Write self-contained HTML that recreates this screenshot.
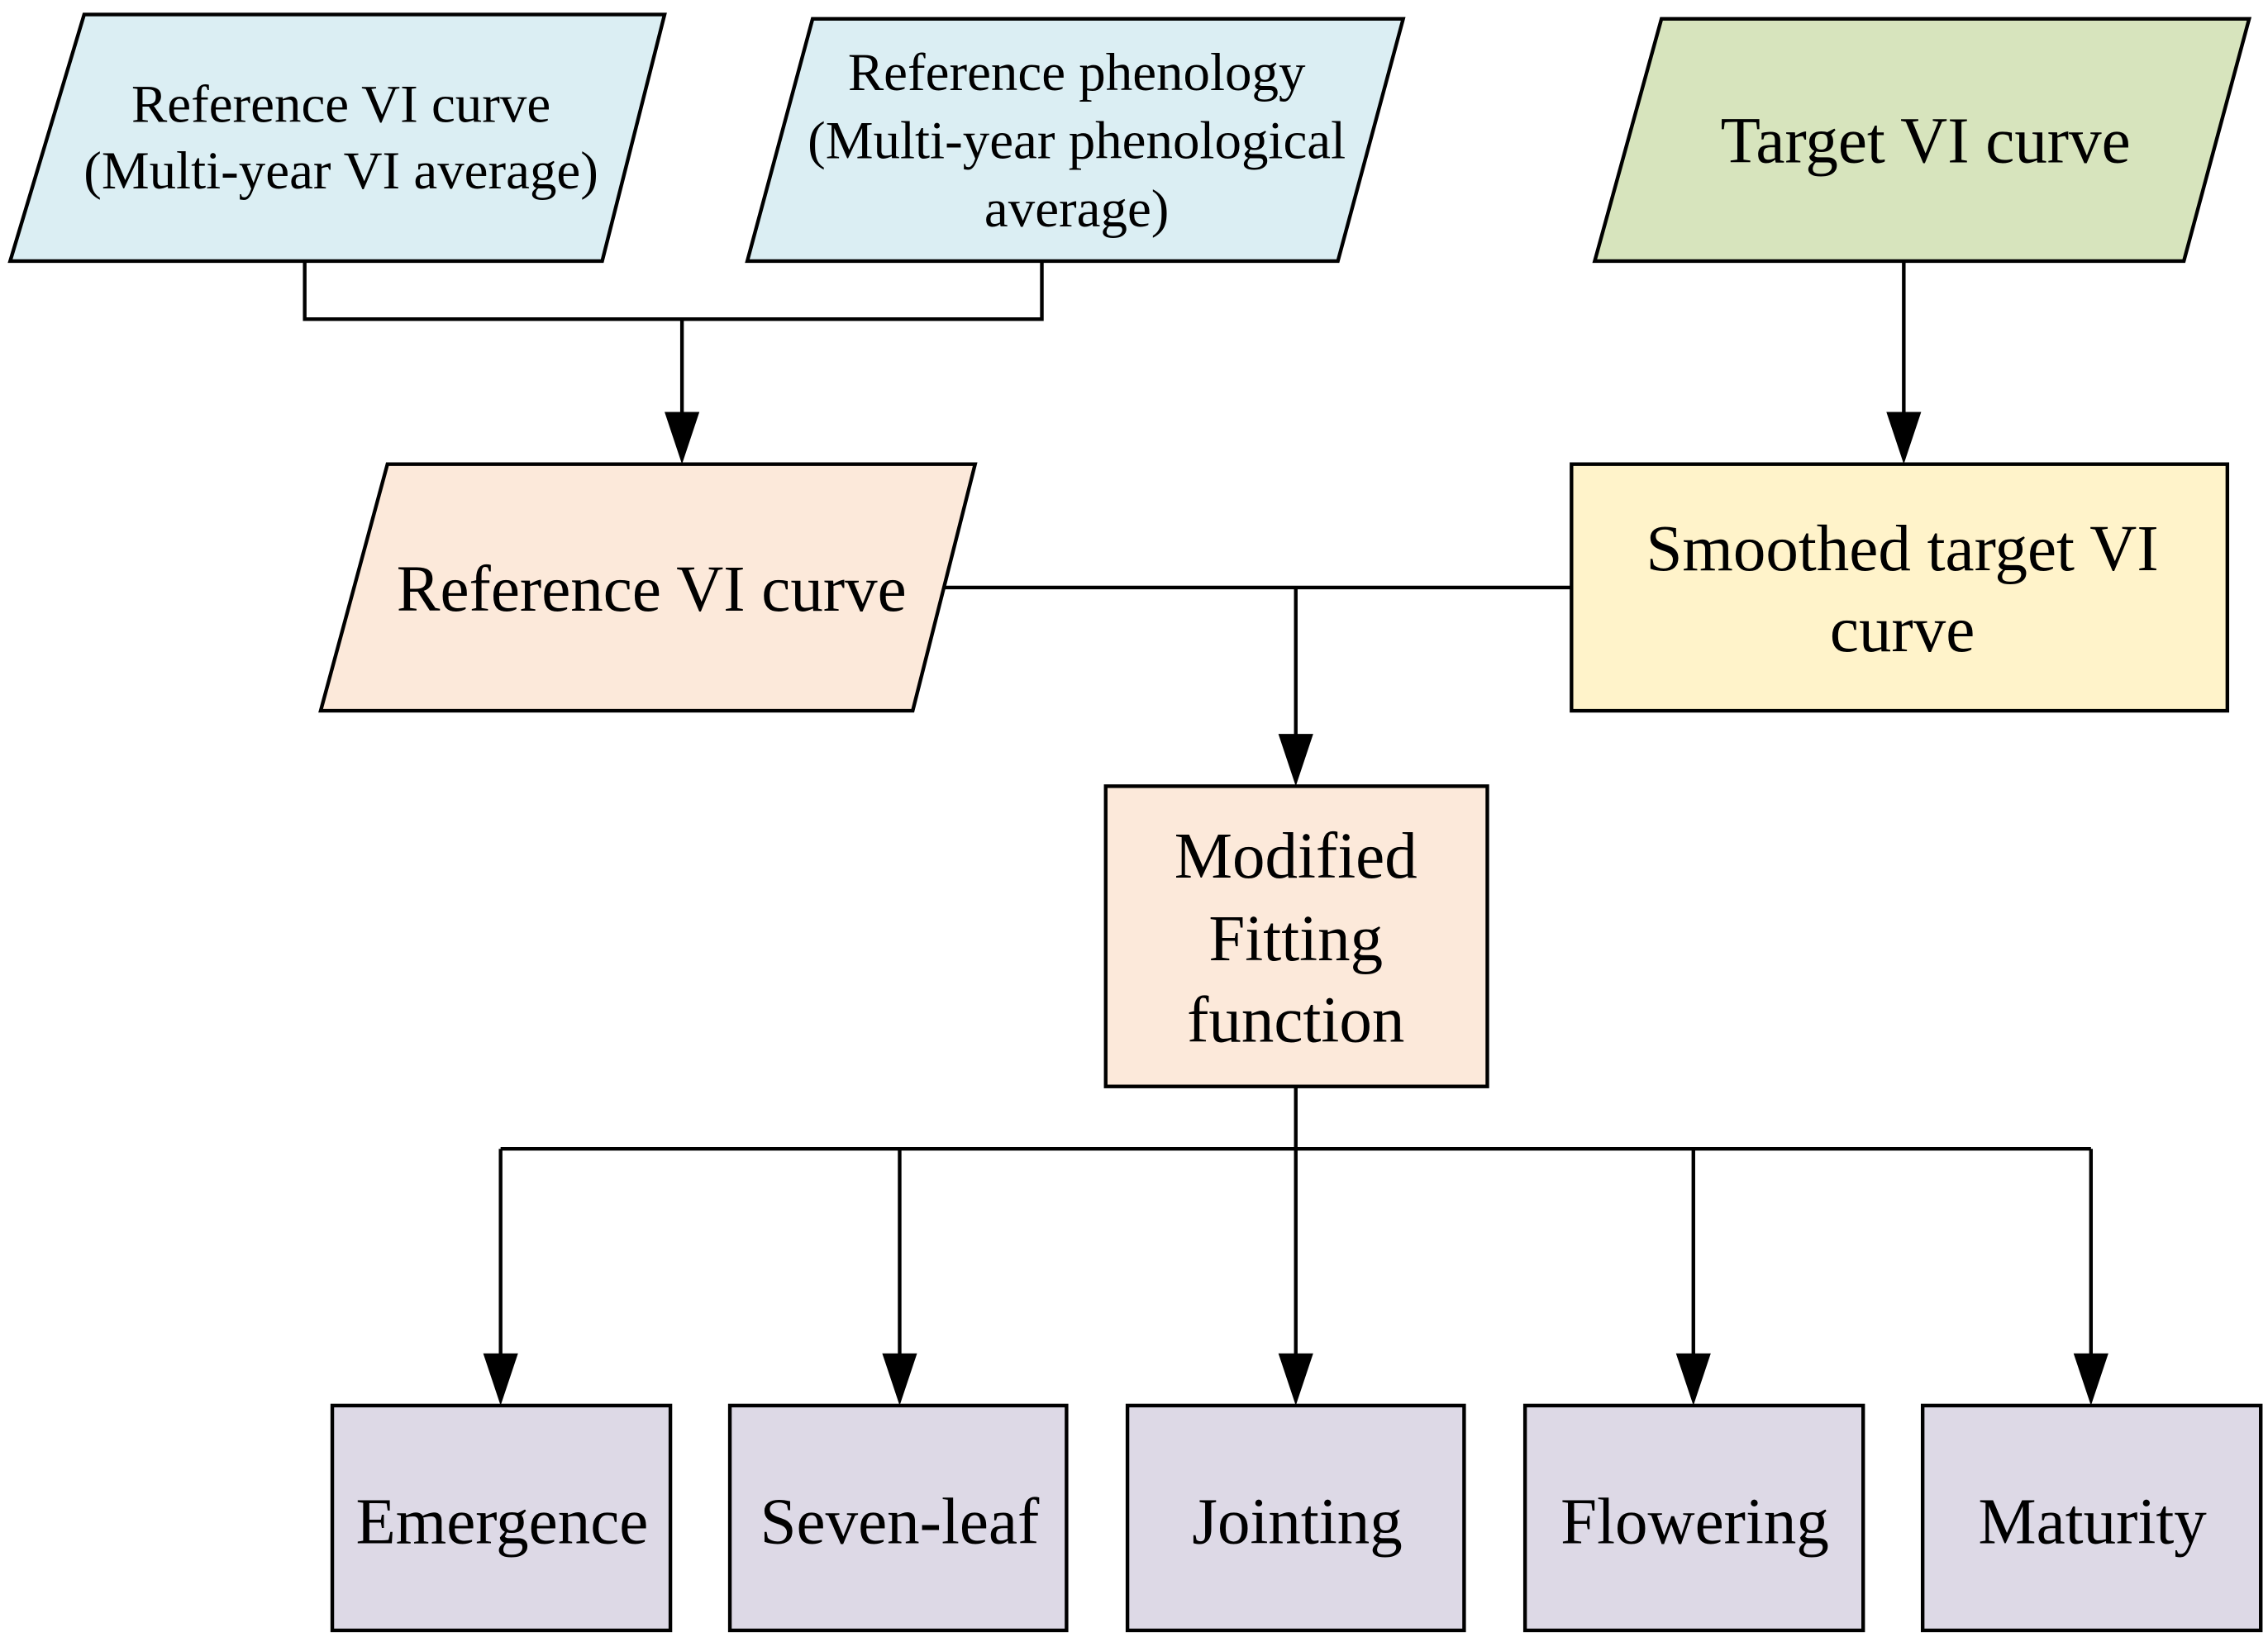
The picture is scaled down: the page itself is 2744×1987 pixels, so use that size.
<!DOCTYPE html>
<html><head><meta charset="utf-8"><style>html,body{margin:0;padding:0;background:#fff}svg{display:block}</style></head>
<body>
<svg width="2744" height="1987" viewBox="0 0 1563 1132" preserveAspectRatio="none" xmlns="http://www.w3.org/2000/svg" font-family="'Liberation Serif', serif" fill="#000">
<g stroke="#000" stroke-width="2.5">
<polygon points="58,10 458,10 415,180 7,180" fill="#DBEEF3"/>
<polygon points="560,13 967,13 922,180 515,180" fill="#DBEEF3"/>
<polygon points="1145,13 1550,13 1505,180 1099,180" fill="#D7E4BD"/>
<polygon points="267,320 672,320 629,490 221,490" fill="#FCE9DA"/>
<rect x="1083" y="320" width="452" height="170" fill="#FFF3CA"/>
<rect x="762" y="542" width="263" height="207" fill="#FCE9DA"/>
<rect x="229" y="969" width="233" height="155" fill="#DDD9E6"/>
<rect x="503" y="969" width="232" height="155" fill="#DDD9E6"/>
<rect x="777" y="969" width="232" height="155" fill="#DDD9E6"/>
<rect x="1051" y="969" width="233" height="155" fill="#DDD9E6"/>
<rect x="1325" y="969" width="233" height="155" fill="#DDD9E6"/>
<polyline fill="none" points="210,180 210,220 718,220 718,180"/>
<line x1="470" y1="220" x2="470" y2="290"/>
<line x1="1312" y1="180" x2="1312" y2="290"/>
<line x1="650" y1="405" x2="1083" y2="405"/>
<line x1="893" y1="405" x2="893" y2="512"/>
<line x1="893" y1="749" x2="893" y2="792"/>
<line x1="345" y1="792" x2="1441" y2="792"/>
<line x1="345" y1="792" x2="345" y2="940"/>
<line x1="620" y1="792" x2="620" y2="940"/>
<line x1="893" y1="792" x2="893" y2="940"/>
<line x1="1167" y1="792" x2="1167" y2="940"/>
<line x1="1441" y1="792" x2="1441" y2="940"/>
</g>
<g stroke="none">
<polygon points="458,284 482,284 470,320"/>
<polygon points="1300,284 1324,284 1312,320"/>
<polygon points="881,506 905,506 893,542"/>
<polygon points="333,933 357,933 345,969"/>
<polygon points="608,933 632,933 620,969"/>
<polygon points="881,933 905,933 893,969"/>
<polygon points="1155,933 1179,933 1167,969"/>
<polygon points="1429,933 1453,933 1441,969"/>
</g>
<g text-anchor="middle" font-size="37">
<text x="235" y="84">Reference VI curve</text>
<text x="235" y="130">(Multi-year VI average)</text>
<text x="742" y="62">Reference phenology</text>
<text x="742" y="109">(Multi-year phenological</text>
<text x="742" y="156">average)</text>
</g>
<g text-anchor="middle" font-size="45">
<text x="1327" y="112">Target VI curve</text>
<text x="449" y="421">Reference VI curve</text>
<text x="1311" y="393">Smoothed target VI</text>
<text x="1311" y="449">curve</text>
<text x="893" y="605">Modified</text>
<text x="893" y="662">Fitting</text>
<text x="893" y="718">function</text>
<text x="346" y="1064">Emergence</text>
<text x="620" y="1064">Seven-leaf</text>
<text x="894" y="1064">Jointing</text>
<text x="1168" y="1064">Flowering</text>
<text x="1442" y="1064">Maturity</text>
</g>
</svg>
</body></html>
